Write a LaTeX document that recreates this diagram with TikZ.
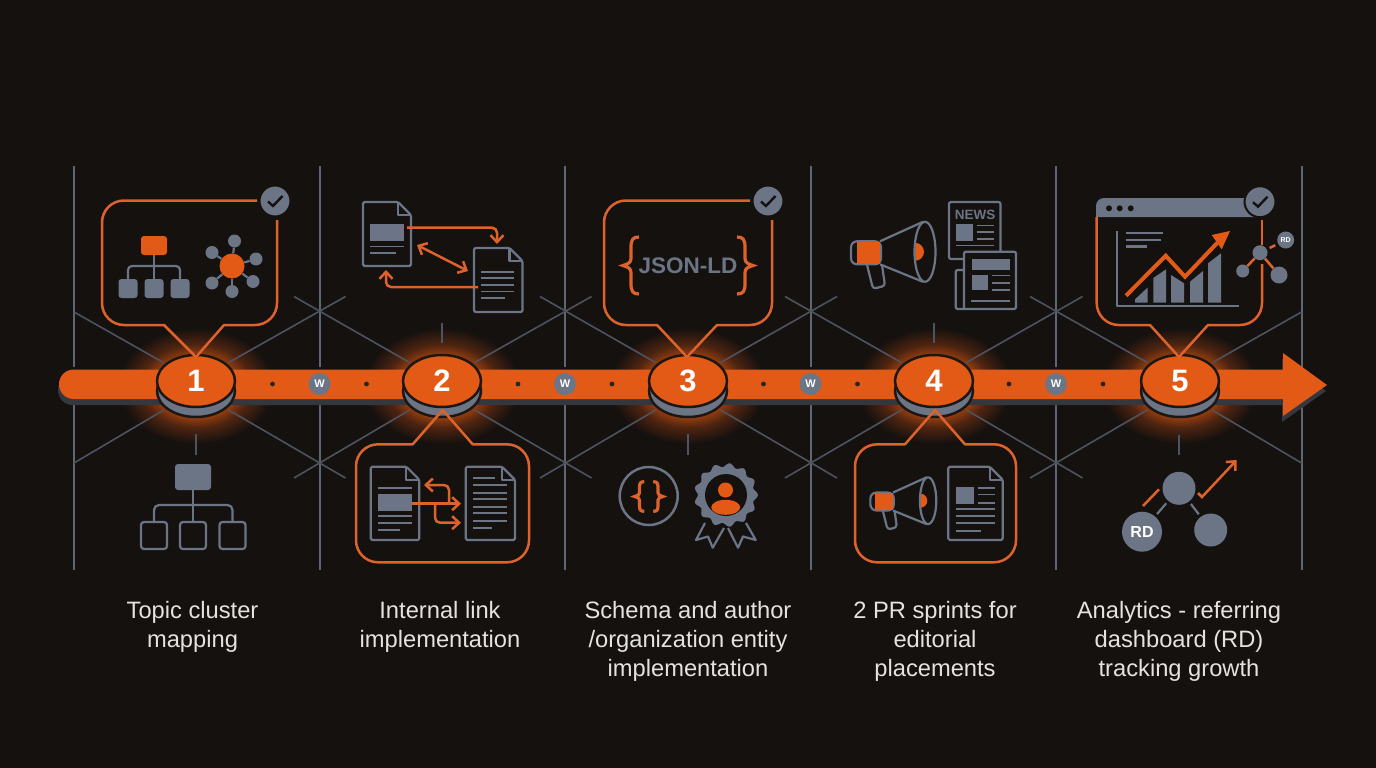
\documentclass[tikz,border=0pt]{standalone}
\usepackage{fontspec}
\setmainfont{Liberation Sans}
\usetikzlibrary{shapes.geometric,arrows.meta,positioning,backgrounds,calc}

\definecolor{bgdark}{HTML}{15110F}
\definecolor{rimdark}{HTML}{1D1714}
\definecolor{flame}{HTML}{E35A17}
\definecolor{flameline}{HTML}{DE622B}
\definecolor{slate}{HTML}{6B7585}
\definecolor{slatedim}{HTML}{4D535F}
\definecolor{barshade}{HTML}{35373E}
\definecolor{capgrey}{HTML}{E4E3E0}
\definecolor{glowmid}{HTML}{4E2410}
\definecolor{glowcore}{HTML}{9C400F}
\pgfdeclareradialshading{glowshade}{\pgfpoint{0bp}{0bp}}{color(0bp)=(glowcore); color(13bp)=(glowcore); color(18bp)=(glowmid); color(25bp)=(bgdark); color(50bp)=(bgdark)}

\newcommand{\docpage}[4]{
    \draw[iconline, fill=bgdark, rounded corners=1.5pt] (#1,#2) -- ({#3-13},#2) -- (#3,{#2+13}) -- (#3,#4) -- (#1,#4) -- cycle;
    \draw[iconline] ({#3-13},#2) -- ({#3-13},{#2+13}) -- (#3,{#2+13});
}
\newcommand{\checkdisc}[3]{
    \node[checkdisc] (#3) at (#1,#2) {};
    \draw[line width=2.4pt, color=bgdark] ({#1-7},{#2+0.5}) -- ({#1-2},{#2+5}) -- ({#1+7.5},{#2-5});
}
\newcommand{\curly}[4]{
    \draw[bracket, shift={(#1,#2)}, xscale=#3, yscale=#4] (8,-28.5) .. controls (2,-28.5) and (0,-26) .. (0,-18) -- (0,-7) .. controls (0,-3) and (-3,-1.5) .. (-8,0) .. controls (-3,1.5) and (0,3) .. (0,7) -- (0,18) .. controls (0,26) and (2,28.5) .. (8,28.5);
}
\newcommand{\megaphone}[3]{
    \begin{scope}[shift={(#1,#2)},scale=#3]
        \draw[iconline, rounded corners=3pt] (-13,12) -- (-7,36) -- (5,33) -- (2,12);
        \draw[iconline, fill=bgdark, rounded corners=6pt] (-29,-11.5) rectangle (1,11.5);
        \fill[flame] (-23,-11) rectangle (0,11);
        \draw[iconline] (0,-11.5) -- (43,-31) (0,11.5) -- (43,29);
        \begin{scope}
            \clip (35,-12) rectangle (50,12);
            \fill[flame] (35,-1) circle (9);
        \end{scope}
        \draw[iconline] (45,-1) ellipse (10.5 and 30);
    \end{scope}
}

\begin{document}
\begin{tikzpicture}[
    x=1pt, y=-1pt,
    divider/.style={color=slate!85!bgdark, line width=2pt},
    spokeline/.style={color=slatedim, line width=1.6pt, shorten >=2pt},
    tickline/.style={color=slatedim, line width=1.6pt},
    callout/.style={color=flameline, line width=2.5pt, line join=round},
    iconline/.style={color=slate, line width=2.2pt, line join=round},
    iconrule/.style={color=slate, line width=1.8pt},
    linkarrow/.style={color=flameline, line width=2.5pt, rounded corners=5pt, >={Straight Barb[length=7pt,width=13pt]}},
    bracket/.style={color=flameline, line width=3.2pt},
    stepnode/.style={ellipse, draw=rimdark, line width=2.5pt, fill=flame, minimum width=78pt, minimum height=52pt, inner sep=0pt, text=white, font=\fontsize{31}{31}\selectfont\bfseries},
    stepbase/.style={ellipse, draw=rimdark, line width=2.5pt, fill=slate, minimum width=78pt, minimum height=52pt, inner sep=0pt},
    wnode/.style={circle, fill=slate, minimum size=22pt, inner sep=0pt, text=white, font=\fontsize{11}{11}\selectfont\bfseries},
    checkdisc/.style={circle, draw=bgdark, line width=2pt, fill=slate, minimum size=31pt, inner sep=0pt},
    solidbox/.style={rectangle, fill=slate, rounded corners=3pt, inner sep=0pt},
    hollowbox/.style={rectangle, draw=slate, line width=2.2pt, rounded corners=3pt, inner sep=0pt},
    orb/.style={circle, fill=slate, inner sep=0pt},
    caption/.style={anchor=north, align=center, inner sep=0pt, text=capgrey, font=\fontsize{23.7}{29}\selectfont},
    bartrack/.style={insert path={[rounded corners=14.7pt] (1283,399) -- (59,399) -- (59,369.5) [sharp corners] -- (1283,369.5) -- (1283,353) -- (1327,385) -- (1283,416) -- cycle}},
]
    \foreach \i/\x in {1/196,2/442,3/688,4/934,5/1180} {
        \node[stepbase] (base\i) at (\x,391) {};
        \node[stepnode] (step\i) at (\x,381) {\i};
    }

    \begin{scope}[on background layer]
        \fill[bgdark] (0,0) rectangle (1376,768);
        \foreach \x in {196,442,688,934,1180}
            \shade[shading=glowshade] (\x,386) ellipse (78 and 58);
        \foreach \x in {74,319.5,565,810.5,1056,1301.5} {
            \draw[divider] (\x,166) -- (\x,367);
            \draw[divider] (\x,405) -- (\x,570);
        }
        \foreach \i/\la/\lb/\lc/\ra/\rb/\rc in {1/74/312/463/345.5/296.5/478,2/294/296.5/478/591.5/296.5/478,3/540/296.5/478/837/296.5/478,4/785/296.5/478/1082.5/296.5/478,5/1030/296.5/478/1301.5/312/463} {
            \coordinate (upleft\i) at (\la,\lb);
            \coordinate (upright\i) at (\ra,\rb);
            \coordinate (lowleft\i) at (\la,\lc);
            \coordinate (lowright\i) at (\ra,\rc);
            \draw[spokeline] (upleft\i) -- (step\i);
            \draw[spokeline] (upright\i) -- (step\i);
            \draw[spokeline] (lowleft\i) -- (base\i);
            \draw[spokeline] (lowright\i) -- (base\i);
        }
        \draw[tickline] (196,434) -- (196,455);
        \draw[tickline] (442,323) -- (442,343);
        \draw[tickline] (688,434) -- (688,455);
        \draw[tickline] (934,323) -- (934,343);
        \draw[tickline] (1179,435) -- (1179,455);
        \fill[barshade, yshift=-6pt, xshift=-1pt, bartrack];
        \fill[flame, bartrack];
    \end{scope}

    \foreach \i/\x in {1/319.5,2/565,3/810.5,4/1056} {
        \node[wnode] (w\i) at (\x,384) {W};
        \fill[bgdark!80!slate] (\x-47,384) circle (2.4);
        \fill[bgdark!80!slate] (\x+47,384) circle (2.4);
    }

    \draw[callout] (277,220) [rounded corners=22pt] -- (277,325) [sharp corners] -- (224,325) -- (196,357) -- (164,325) [rounded corners=22pt] -- (102,325) -- (102,200.5) -- (257,200.5);
    \checkdisc{275}{201}{check1}
    \node[solidbox, fill=flame, minimum width=26pt, minimum height=19pt] (orgtop) at (154,245.5) {};
    \foreach \n/\x in {orgleft/128,orgmid/154,orgright/180}
        \node[solidbox, minimum width=19pt, minimum height=19pt] (\n) at (\x,288.5) {};
    \coordinate (orgjoin) at (154,266);
    \draw[iconline] (orgtop) -- (orgmid);
    \draw[iconline, rounded corners=4pt] (orgleft.north) |- (orgjoin) -| (orgright.north);
    \node[orb, fill=flame, minimum size=25pt] (hub) at (232,266) {};
    \foreach \i/\x/\y in {1/234.5/241,2/212/252.5,3/256/259,4/253/281.5,5/212/283,6/232/291.5} {
        \node[orb, minimum size=13pt] (sat\i) at (\x,\y) {};
        \draw[iconline] (hub) -- (sat\i);
    }

    \docpage{363}{202}{411}{266}
    \fill[slate] (370,224) rectangle (404,241);
    \draw[iconrule] (370,246.5) -- (404,246.5) (370,253) -- (396,253);
    \docpage{474}{248}{522.5}{312}
    \foreach \y in {271.7,278,285,291.5}
        \draw[iconrule] (481,\y) -- (514,\y);
    \draw[iconrule] (481,298) -- (505,298);
    \draw[linkarrow, ->] (407,227.7) -- (497,227.7) -- (497,244);
    \draw[linkarrow, <->] (417,245) -- (468,271);
    \draw[linkarrow, ->] (478,287) -- (386,287) -- (386,270);

    \draw[callout] (772,220) [rounded corners=22pt] -- (772,325) [sharp corners] -- (717,325) -- (687,357) -- (657,325) [rounded corners=22pt] -- (604,325) -- (604,200.5) -- (750,200.5);
    \checkdisc{768}{201}{check3}
    \node[text=slate, inner sep=0pt, font=\fontsize{22.5}{24}\selectfont\bfseries] (jsonld) at (688,265.5) {JSON-LD};
    \curly{631}{265.5}{1}{1}
    \curly{745}{265.5}{-1}{1}

    \megaphone{880}{252.8}{1}
    \draw[iconline, fill=bgdark, rounded corners=2pt] (949,202) rectangle (1000.5,259);
    \node[text=slate, inner sep=0pt, font=\fontsize{13.5}{13.5}\selectfont\bfseries] (newshead) at (975,215) {NEWS};
    \fill[slate] (956,224.3) rectangle (973,241);
    \draw[iconrule] (977,225.5) -- (994,225.5) (977,232) -- (994,232) (977,239) -- (994,239) (956,245.5) -- (994,245.5);
    \draw[iconline, fill=bgdark, rounded corners=2pt] (964,270) -- (955.7,270) -- (955.7,309) -- (1016,309) -- (1016,251.7) -- (964,251.7) -- (964,309);
    \fill[slate] (971.5,259) rectangle (1010,270);
    \fill[slate] (971.7,275) rectangle (987.7,290);
    \draw[iconrule] (992,275.5) -- (1010,275.5) (992,282.6) -- (1010,282.6) (992,290) -- (1010,290) (971,301) -- (1010,301);

    \draw[callout] (1262,264) [rounded corners=22pt] -- (1262,325) [sharp corners] -- (1208,325) -- (1179,357) -- (1150,325) [rounded corners=22pt] -- (1096.7,325) -- (1096.7,217);
    \draw[callout] (1262,220) -- (1262,245);
    \fill[slate, rounded corners=8pt] (1096,217) -- (1096,198) -- (1256,198) [sharp corners] -- (1256,217) -- cycle;
    \foreach \x in {1109,1119.7,1130.7}
        \fill[bgdark] (\x,208.3) circle (3);
    \checkdisc{1260}{201.7}{check5}
    \draw[iconline] (1126,233) -- (1163,233) (1126,240) -- (1161,240) (1126,246.4) -- (1147,246.4);
    \draw[iconline] (1117.3,231) -- (1117.3,305.7) -- (1239,305.7);
    \fill[slate] (1135,302.7) -- (1135,299.3) -- (1147.5,287.7) -- (1147.5,302.7) -- cycle;
    \fill[slate] (1153.3,302.7) -- (1153.3,278) -- (1166,269.3) -- (1166,302.7) -- cycle;
    \fill[slate] (1171,302.7) -- (1171,275) -- (1184,283.3) -- (1184,302.7) -- cycle;
    \fill[slate] (1190,302.7) -- (1190,281.7) -- (1203,271) -- (1203,302.7) -- cycle;
    \fill[slate] (1208,302.7) -- (1208,263.3) -- (1221,253.3) -- (1221,302.7) -- cycle;
    \draw[bgdark, line width=7pt] (1126,295.7) -- (1165.7,255.7) -- (1185,276.7) -- (1220,240);
    \draw[flame, line width=4pt] (1126,295.7) -- (1165.7,255.7) -- (1185,276.7) -- (1220,240);
    \fill[flame] (1211.7,235) -- (1230,231) -- (1221.7,249.3) -- cycle;
    \node[orb, minimum size=15pt] (graphhub) at (1260,252.7) {};
    \node[orb, minimum size=17pt, text=white, font=\fontsize{7}{7}\selectfont\bfseries] (graphrd) at (1285.7,240) {RD};
    \node[orb, minimum size=13pt] (graphleft) at (1242.7,271) {};
    \node[orb, minimum size=17pt] (graphright) at (1279,275) {};
    \draw[callout, shorten >=3pt, shorten <=3pt] (graphhub) -- (graphrd);
    \draw[callout] (graphhub) -- (graphleft);
    \draw[callout] (graphhub) -- (graphright);

    \node[solidbox, minimum width=36pt, minimum height=26pt] (treetop) at (193,477) {};
    \foreach \n/\x in {treeleft/154,treemid/193,treeright/232.5}
        \node[hollowbox, minimum width=26pt, minimum height=27pt] (\n) at (\x,535.5) {};
    \coordinate (treejoin) at (193,505);
    \draw[iconline] (treetop) -- (treemid);
    \draw[iconline, rounded corners=5pt] (treeleft.north) |- (treejoin) -| (treeright.north);

    \draw[callout] (442.7,410) -- (472.7,444.3) [rounded corners=22pt] -- (529,444.3) -- (529,562.3) -- (356,562.3) -- (356,444.3) [sharp corners] -- (412.7,444.3) -- cycle;
    \docpage{370.7}{466.7}{419.3}{540}
    \fill[slate] (378,494) rectangle (412,510.7);
    \draw[iconrule] (378,488) -- (412,488) (378,516) -- (412,516) (378,523) -- (412,523) (378,530) -- (400,530);
    \docpage{465.7}{466.7}{515}{540}
    \draw[iconrule] (473,478) -- (495,478) (473,527.7) -- (492,527.7);
    \foreach \y in {485,492.7,499,506.7,513,520.7}
        \draw[iconrule] (473,\y) -- (507,\y);
    \draw[linkarrow, ->] (412,503.7) -- (461,503.7);
    \draw[linkarrow, ->] (449,503.7) -- (449,485) -- (424,485);
    \draw[linkarrow, ->] (435,503.7) -- (435,522.7) -- (461,522.7);

    \node[circle, draw=slate, line width=2.5pt, minimum size=58pt, inner sep=0pt] (schemaring) at (648.7,496) {};
    \curly{639.5}{496.5}{0.6}{0.52}
    \curly{658}{496.5}{-0.6}{0.52}
    \draw[iconline] (705,523) -- (696,540) -- (708,536.5) -- (712.7,547.7) -- (724,528);
    \draw[iconline] (746,523) -- (755.7,540) -- (743,536.5) -- (738,547.7) -- (728,528);
    \fill[slate, shift={(726,495)}] plot[smooth cycle, domain=0:356, samples=90] ({(30+2*cos(13*\x))*cos(\x)},{(30+2*cos(13*\x))*sin(\x)});
    \node[circle, fill=bgdark, minimum size=42pt, inner sep=0pt] (sealcore) at (726,495) {};
    \node[orb, fill=flame, minimum size=15pt] (sealhead) at (725.5,490) {};
    \fill[flame] (725.7,507.3) ellipse (14.5 and 7.5);

    \draw[callout] (935,410) -- (965,444.3) [rounded corners=22pt] -- (1016,444.3) -- (1016,562.3) -- (855,562.3) -- (855,444.3) [sharp corners] -- (905,444.3) -- cycle;
    \megaphone{893}{501.5}{0.78}
    \docpage{948.3}{466.7}{1002.7}{540}
    \fill[slate] (956,487) rectangle (973.7,503.5);
    \draw[iconrule] (978,488) -- (995,488) (978,494.5) -- (995,494.5) (978,502.7) -- (995,502.7);
    \draw[iconrule] (956,509) -- (995,509) (956,516) -- (995,516) (956,523) -- (995,523) (956,530.7) -- (981,530.7);

    \node[orb, minimum size=33pt] (rdtop) at (1179,488.3) {};
    \node[orb, minimum size=40pt, text=white, font=\fontsize{16}{16}\selectfont\bfseries] (rdleft) at (1142,531.7) {RD};
    \node[orb, minimum size=33pt] (rdright) at (1210.7,530) {};
    \draw[iconline, shorten >=3pt, shorten <=3pt] (rdtop) -- (rdleft);
    \draw[iconline, shorten >=3pt, shorten <=3pt] (rdtop) -- (rdright);
    \draw[linkarrow, rounded corners=0pt] (1159,489.3) -- (1143,506);
    \draw[linkarrow, rounded corners=0pt, ->] (1198,493) -- (1202,497) -- (1236.7,460);

    \node[caption] (cap1) at (192.5,601) {Topic cluster\\mapping};
    \node[caption] (cap2) at (440,601) {Internal link\\implementation};
    \node[caption] (cap3) at (688,601) {Schema and author\\/organization entity\\implementation};
    \node[caption] (cap4) at (935,601) {2 PR sprints for\\editorial\\placements};
    \node[caption] (cap5) at (1179,601) {Analytics - referring\\dashboard (RD)\\tracking growth};
\end{tikzpicture}
\end{document}
